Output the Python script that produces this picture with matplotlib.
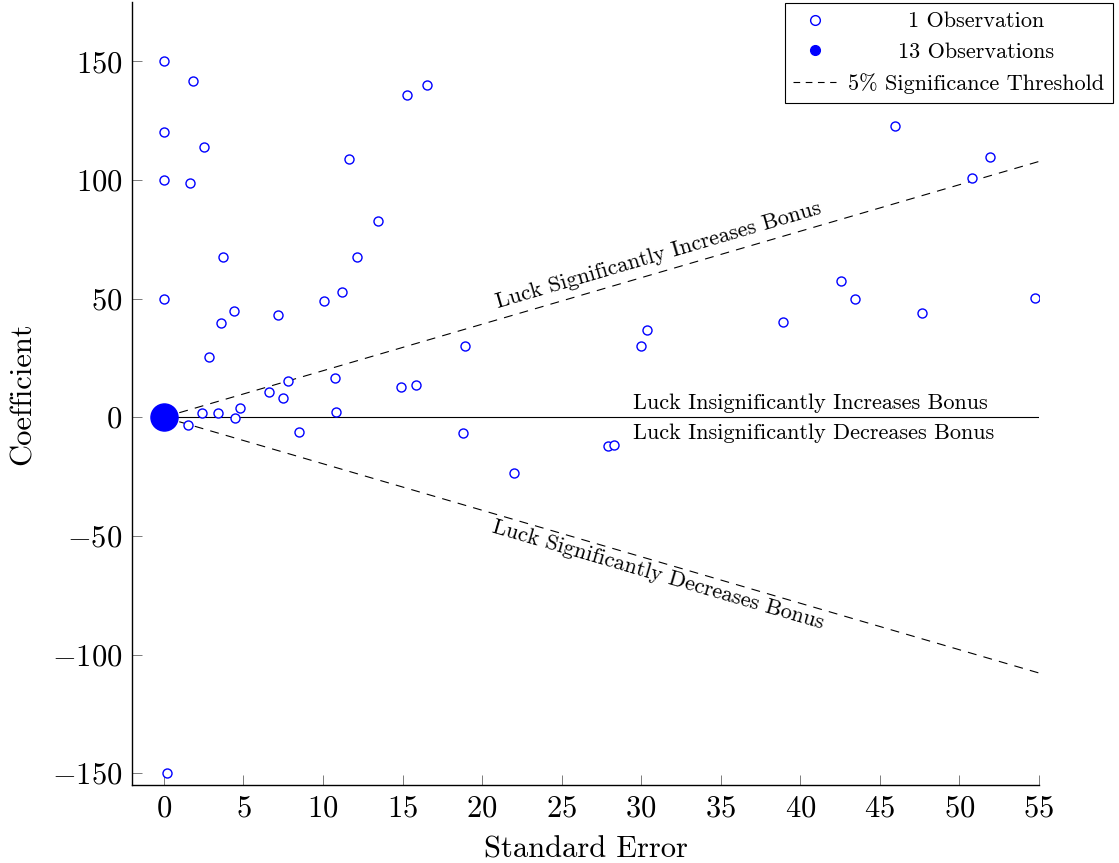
import numpy as np
import matplotlib
matplotlib.use('Agg')
import matplotlib.pyplot as plt
from matplotlib.lines import Line2D

plt.rcParams['font.family'] = 'serif'
plt.rcParams['font.serif'] = ['cmr10']
plt.rcParams['mathtext.fontset'] = 'cm'
plt.rcParams['axes.formatter.use_mathtext'] = True

# single observations: standard error vs coefficient
std_err = [0, 1.82, 0, 2.5, 0, 1.63, 3.7, 0, 4.4, 3.58, 2.83, 7.17, 10.06,
           11.19, 11.63, 12.13, 13.45, 15.27, 16.53, 18.92, 14.9, 15.84,
           10.75, 6.6, 7.8, 7.48, 10.8, 2.39, 3.4, 4.78, 4.46, 1.5, 8.49,
           18.8, 22.0, 27.9, 28.3, 30.0, 30.36, 38.9, 42.56, 43.43, 47.65,
           45.95, 50.8, 51.9, 54.75, 0.19]
coef = [150, 141.6, 120, 113.8, 100, 98.6, 67.4, 50, 44.7, 39.6, 25.3, 43.0,
        48.9, 52.7, 108.7, 67.4, 82.6, 135.7, 139.9, 29.9, 12.6, 13.5, 16.4,
        10.5, 15.2, 8.0, 2.1, 1.7, 1.7, 3.8, -0.4, -3.4, -6.3, -6.7, -23.6,
        -12.2, -11.8, 29.9, 36.7, 40.0, 57.3, 49.7, 43.8, 122.6, 100.7,
        109.6, 50.1, -150]

# 13 observations stacked at the origin
stack_se = [0]
stack_coef = [0]

z_crit = 1.96
se_range = np.array([0, 55])
x_ticks = list(range(0, 56, 5))
y_ticks = [-150, -100, -50, 0, 50, 100, 150]

fig = plt.figure(figsize=(11.19, 8.63), dpi=100)
ax = fig.add_axes([132 / 1119, 1 - 785 / 863, (1039 - 132) / 1119, (785 - 2) / 863])

ax.plot(se_range, z_crit * se_range, color='black', lw=0.8,
        linestyle=(0, (8, 6.5)))
ax.plot(se_range, -z_crit * se_range, color='black', lw=0.8,
        linestyle=(0, (8, 6.5)))
ax.plot(se_range, [0, 0], color='black', lw=0.8)

ax.plot(std_err, coef, 'o', ms=6.5, mfc='white', mec='blue', mew=1.0,
        linestyle='none', zorder=3)
ax.plot(stack_se, stack_coef, 'o', ms=19.5, color='blue', zorder=4)

ang = np.degrees(np.arctan(z_crit))
ax.text(21.0, 45.9, 'Luck Significantly Increases Bonus', fontsize=16,
        rotation=ang, transform_rotates_text=True, rotation_mode='anchor',
        ha='left', va='baseline')
ax.text(20.6, -48.3, 'Luck Significantly Decreases Bonus', fontsize=16,
        rotation=-ang, transform_rotates_text=True, rotation_mode='anchor',
        ha='left', va='baseline')
ax.text(29.5, 3.4, 'Luck Insignificantly Increases Bonus', fontsize=16,
        ha='left', va='baseline')
ax.text(29.5, -9.3, 'Luck Insignificantly Decreases Bonus', fontsize=16,
        ha='left', va='baseline')

ax.set_xlim(-2, 55)
ax.set_ylim(-155, 175)
ax.set_xticks(x_ticks)
ax.set_yticks(y_ticks)
ax.spines['top'].set_visible(False)
ax.spines['right'].set_visible(False)
for s in ['left', 'bottom']:
    ax.spines[s].set_linewidth(1.0)
ax.tick_params(direction='in', length=7, width=0.6, color='0.4',
               labelsize=22, pad=7)
ax.set_xlabel('Standard Error', fontsize=22, labelpad=10)
ax.set_ylabel('Coefficient', fontsize=22, labelpad=11)

handles = [
    Line2D([], [], marker='o', ms=7, mfc='white', mec='blue', mew=1.0, ls='none'),
    Line2D([], [], marker='o', ms=7, color='blue', ls='none'),
    Line2D([], [], color='black', lw=0.8, linestyle=(0, (6, 5))),
]
labels = ['1 Observation', '13 Observations', '5% Significance Threshold']
leg = fig.legend(handles, labels, loc='upper right',
                 bbox_to_anchor=(1113 / 1119, 1 - 3 / 863), fontsize=16,
                 frameon=True, fancybox=False, framealpha=1,
                 edgecolor='black', handlelength=1.9, handletextpad=0.55,
                 labelspacing=0.5, borderpad=0.4, borderaxespad=0)
leg.get_frame().set_linewidth(0.8)

# center legend labels in their column
fig.canvas.draw()
r = fig.canvas.get_renderer()
widths = [t.get_window_extent(r).width for t in leg.get_texts()]
for t, w in zip(leg.get_texts(), widths):
    t.set_x((max(widths) - w) / 2)

fig.savefig('out.png', dpi=100)
